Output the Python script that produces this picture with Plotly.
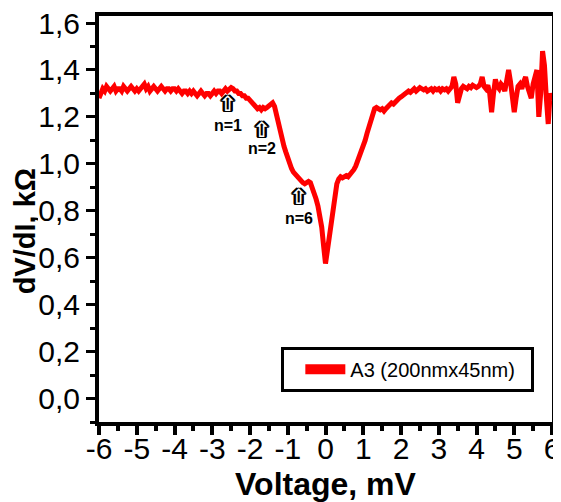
import plotly.graph_objects as go

# Voltage grid (mV), 0.05 mV step from -6 to 6
voltage = [round(-6 + 0.05 * i, 2) for i in range(241)]

# dV/dI (kOhm), one row per mV
dvdi = (
    [1.28, 1.30, 1.32, 1.31, 1.33, 1.32, 1.31, 1.32, 1.33, 1.31, 1.32, 1.32, 1.31, 1.33, 1.32, 1.31, 1.32, 1.33, 1.32, 1.31]
    + [1.32, 1.31, 1.32, 1.33, 1.34, 1.32, 1.33, 1.31, 1.32, 1.33, 1.32, 1.31, 1.32, 1.33, 1.32, 1.31, 1.32, 1.32, 1.31, 1.32]
    + [1.32, 1.31, 1.32, 1.31, 1.30, 1.31, 1.31, 1.30, 1.31, 1.30, 1.31, 1.30, 1.29, 1.30, 1.31, 1.30, 1.29, 1.30, 1.30, 1.29]
    + [1.30, 1.31, 1.30, 1.31, 1.31, 1.30, 1.31, 1.32, 1.31, 1.32, 1.325, 1.32, 1.31, 1.31, 1.30, 1.30, 1.29, 1.29, 1.28, 1.28]
    + [1.27, 1.26, 1.25, 1.24, 1.235, 1.24, 1.23, 1.24, 1.235, 1.24, 1.245, 1.25, 1.26, 1.245, 1.21, 1.16, 1.13, 1.10, 1.075, 1.05]
    + [1.02, 1.00, 0.98, 0.965, 0.955, 0.945, 0.935, 0.925, 0.92, 0.915, 0.92, 0.925, 0.92, 0.90, 0.87, 0.85, 0.82, 0.78, 0.73, 0.65]
    + [0.575, 0.63, 0.69, 0.73, 0.80, 0.86, 0.915, 0.935, 0.945, 0.94, 0.945, 0.95, 0.945, 0.955, 0.96, 0.975, 0.99, 1.01, 1.03, 1.05]
    + [1.07, 1.10, 1.13, 1.16, 1.19, 1.215, 1.235, 1.24, 1.235, 1.23, 1.235, 1.225, 1.235, 1.245, 1.25, 1.26, 1.255, 1.265, 1.27, 1.28]
    + [1.285, 1.29, 1.30, 1.305, 1.31, 1.305, 1.315, 1.32, 1.31, 1.32, 1.325, 1.32, 1.315, 1.32, 1.31, 1.315, 1.32, 1.31, 1.32, 1.315]
    + [1.32, 1.31, 1.32, 1.315, 1.32, 1.31, 1.325, 1.33, 1.37, 1.34, 1.26, 1.30, 1.32, 1.33, 1.325, 1.32, 1.33, 1.325, 1.335, 1.33]
    + [1.325, 1.33, 1.34, 1.37, 1.33, 1.32, 1.335, 1.30, 1.22, 1.30, 1.36, 1.33, 1.32, 1.34, 1.33, 1.31, 1.36, 1.40, 1.35, 1.30]
    + [1.22, 1.28, 1.33, 1.34, 1.32, 1.35, 1.37, 1.33, 1.30, 1.28, 1.34, 1.38, 1.40, 1.20, 1.30, 1.48, 1.42, 1.28, 1.17, 1.30]
    + [1.27]
)

series_name = "A3 (200nmx45nm)"
x_title = "Voltage, mV"
y_title = "dV/dI, kΩ"

x_ticks = [-6, -5, -4, -3, -2, -1, 0, 1, 2, 3, 4, 5, 6]
x_tick_labels = ["-6", "-5", "-4", "-3", "-2", "-1", "0", "1", "2", "3", "4", "5", "6"]

# Marked levels
mark_labels = ["n=1", "n=2", "n=6"]
mark_x = [-2.57, -1.68, -0.69]
arrow_bottom_y = [1.215, 1.105, 0.82]
label_top_y = [1.21, 1.11, 0.81]

fig = go.Figure()
fig.add_trace(go.Scatter(
    x=voltage, y=dvdi, mode="lines",
    line=dict(color="#ff0000", width=5),
    showlegend=False, name=series_name,
))
# legend entry
fig.add_trace(go.Scatter(
    x=[None], y=[None], mode="lines",
    line=dict(color="#ff0000", width=10),
    name=series_name, showlegend=True,
))

outline = ("2.6px 0 0 #000, -2.6px 0 0 #000, 1.3px 0 0 #000, -1.3px 0 0 #000, "
           "0 1.2px 0 #000, 0 -1.2px 0 #000, 2px 1.2px 0 #000, -2px -1.2px 0 #000, "
           "2px -1.2px 0 #000, -2px 1.2px 0 #000")
for xm, ya, yl, lab in zip(mark_x, arrow_bottom_y, label_top_y, mark_labels):
    fig.add_annotation(x=xm, y=ya, yanchor="bottom", text="⇧", showarrow=False,
                       yshift=-5,
                       font=dict(family="DejaVu Sans", size=21, color="white", weight="bold",
                                 shadow=outline))
    fig.add_annotation(x=xm, y=yl, yanchor="top", text=lab, showarrow=False,
                       font=dict(family="Liberation Sans, Arial", size=16, color="black", weight="bold"))

# rotated y-axis title placed like the reference
fig.add_annotation(xref="paper", yref="paper", x=-0.163, y=0.47, text=y_title,
                   textangle=-90, showarrow=False, xanchor="center", yanchor="middle",
                   height=26, valign="middle",
                   font=dict(size=29, weight="bold", color="black"))

# page body has an 8 px margin, so the figure is made 8 px smaller each way
fig.update_layout(
    width=553, height=494,
    margin=dict(l=91, r=9, t=8, b=80),
    paper_bgcolor="white", plot_bgcolor="white",
    separators=",.",
    font=dict(family="Liberation Sans, Arial", color="black"),
    legend=dict(
        orientation="h", x=0.961, xanchor="right", y=0.13, yanchor="middle",
        bordercolor="black", borderwidth=3, bgcolor="white",
        font=dict(size=20), entrywidth=176, entrywidthmode="pixels",
        itemwidth=40, indentation=16,
    ),
    xaxis=dict(
        range=[-6, 6], tickmode="array", tickvals=x_ticks, ticktext=x_tick_labels,
        ticks="outside", ticklen=9, tickwidth=4, tickcolor="black",
        minor=dict(tickmode="linear", tick0=-6, dtick=0.5, ticks="outside", ticklen=5, tickwidth=4, tickcolor="black"),
        showline=True, linewidth=4, linecolor="black", mirror=True,
        showgrid=False, zeroline=False, automargin=False,
        tickfont=dict(size=30), ticklabelstandoff=-12, ticklabeloverflow="allow",
        title=dict(text=x_title, font=dict(size=32, weight="bold")),
    ),
    yaxis=dict(
        range=[-0.1, 1.63], tick0=0, dtick=0.2, tickformat=".1f",
        ticks="outside", ticklen=9, tickwidth=3, tickcolor="black",
        minor=dict(tick0=0, dtick=0.1, ticks="outside", ticklen=5, tickwidth=3, tickcolor="black"),
        showline=True, linewidth=4, linecolor="black", mirror=True,
        showgrid=False, zeroline=False, automargin=False,
        tickfont=dict(size=30), ticklabeloverflow="allow",
    ),
)

fig.write_html("out.html")
